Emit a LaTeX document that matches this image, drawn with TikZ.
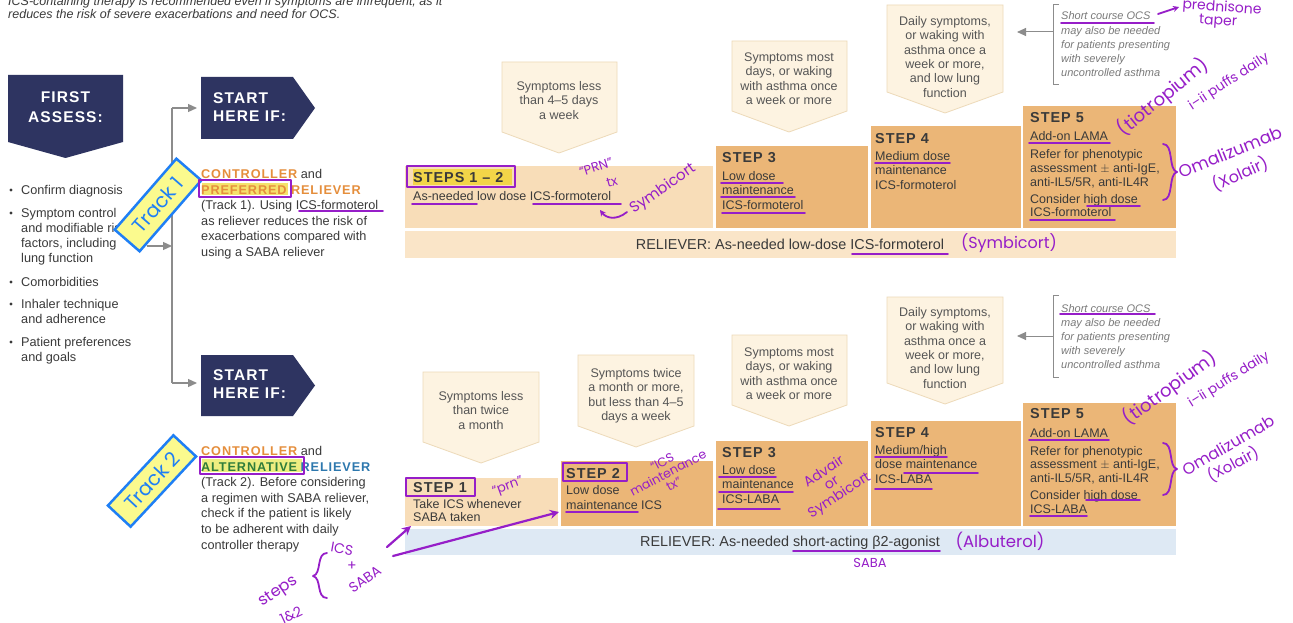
\documentclass[tikz,border=0pt]{standalone}
\usepackage{fontspec}
\setmainfont{Liberation Sans}
\newfontfamily\hvy{Liberation Sans}[LetterSpace=7]
\newfontfamily\handf{Poppins}
\usetikzlibrary{arrows.meta}
\definecolor{navy}{HTML}{2E3461}
\definecolor{txt}{HTML}{3A3A3A}
\definecolor{ctxt}{HTML}{555555}
\definecolor{orng}{HTML}{E58E3C}
\definecolor{grn}{HTML}{2F7D3A}
\definecolor{blu}{HTML}{2D78AE}
\definecolor{darkS}{HTML}{EBB677}
\definecolor{lightS}{HTML}{F8DDB8}
\definecolor{relT}{HTML}{FAE5C8}
\definecolor{relB}{HTML}{DEE9F4}
\definecolor{callF}{HTML}{FDF3E1}
\definecolor{callD}{HTML}{EDDAB9}
\definecolor{purp}{RGB}{150,30,200}
\definecolor{hlY}{HTML}{F2D548}
\definecolor{hlP}{HTML}{F5E26C}
\definecolor{hlA}{HTML}{EEEE80}
\definecolor{trkY}{HTML}{FBFA8E}
\definecolor{trkB}{HTML}{1F7FF5}
\definecolor{gry}{HTML}{8C8C8C}
\definecolor{ocs}{HTML}{7A7A7A}
\newcommand\callbox[5]{%
  \filldraw[callout] (#1,#3) -- (#2,#3) -- (#2,#5-21) -- (#4,#5) -- (#1,#5-21) -- cycle;}
\tikzset{
  intro/.style={font=\itshape\fontsize{12.5}{14}\selectfont, text=txt, anchor=base west, inner sep=0pt},
  hdr/.style={font=\hvy\bfseries\fontsize{15.5}{15.5}\selectfont, text=white, inner sep=0pt},
  bul/.style={font=\fontsize{12.7}{15}\selectfont, text=txt, anchor=base west, inner sep=0pt, align=left},
  body/.style={font=\fontsize{12.7}{15.6}\selectfont, text=txt, anchor=base west, inner sep=0pt, align=left},
  steptxt/.style={font=\fontsize{12.5}{14.5}\selectfont, text=txt, anchor=base west, inner sep=0pt, align=left},
  calltxt/.style={font=\fontsize{12.5}{14.5}\selectfont, text=ctxt, anchor=base, inner sep=0pt, align=center},
  steplbl/.style={font=\hvy\bfseries\fontsize{14.4}{14.4}\selectfont, text=txt, anchor=base west, inner sep=0pt},
  reltxt/.style={font=\fontsize{14.4}{14.4}\selectfont, text=txt, anchor=base, inner sep=0pt},
  ocstxt/.style={font=\itshape\fontsize{11}{14.2}\selectfont, text=ocs, anchor=base west, inner sep=0pt, align=left},
  callout/.style={fill=callF, draw=callD, line width=0.8pt},
  conn/.style={draw=gry, line width=1.3pt},
  arrowed/.style={-{Triangle[length=9pt,width=8pt]}},
  hand/.style={draw=purp, line width=1.8pt, line cap=round, line join=round},
  handtxt/.style={text=purp, font=\handf\fontsize{#1}{#1}\selectfont, inner sep=0pt, align=center},
  handtxt/.default=13,
  trk/.style={draw=trkB, fill=trkY, line width=2.5pt, inner sep=0pt, text=trkB, font=\handf\fontsize{20}{20}\selectfont},
  dot/.style={circle, fill=txt, inner sep=0pt, minimum size=3.2pt}
}
\begin{document}
\begin{tikzpicture}[x=1pt,y=-1pt]
\useasboundingbox (0,0) rectangle (1293,623);
\fill[white] (0,0) rectangle (1293,623);
\begin{scope}
\clip (0,0) rectangle (1293,623);
% intro text
\node[intro] (intro1) at (8,6) {ICS-containing therapy is recommended even if symptoms are infrequent, as it};
\node[intro] (intro2) at (8,19) {reduces the risk of severe exacerbations and need for OCS.};
% first assess
\fill[navy] (8,75) -- (123,75) -- (123,142) -- (65.5,158) -- (8,142) -- cycle;
\node[hdr, anchor=base] (fa1) at (65.5,102.5) {FIRST};
\node[hdr, anchor=base] (fa2) at (65.5,122.5) {ASSESS:};
% start here boxes
\fill[navy] (201,77) -- (293,77) -- (315,108) -- (293,139) -- (201,139) -- cycle;
\node[hdr, anchor=base west] (sh1a) at (213,103.5) {START};
\node[hdr, anchor=base west] (sh1b) at (213,121.5) {HERE IF:};
\fill[navy] (201,355) -- (293,355) -- (315,385.5) -- (293,416) -- (201,416) -- cycle;
\node[hdr, anchor=base west] (sh2a) at (213,380.5) {START};
\node[hdr, anchor=base west] (sh2b) at (213,398.5) {HERE IF:};
% connectors
\coordinate (vtop) at (172,108);
\coordinate (vbot) at (172,383);
\coordinate (vmid) at (172,246);
\coordinate (blist) at (147,246);
\coordinate (s1w) at (197,108);
\coordinate (s2w) at (197,383);
\draw[conn] (vtop) -- (vbot);
\draw[conn, arrowed] (vtop) -- (s1w);
\draw[conn, arrowed] (vbot) -- (s2w);
\draw[conn, arrowed] (blist) -- (vmid);
% bullets (base anchor = last line)
\node[dot] (d1) at (11,190) {};
\node[bul] (b1) at (21,194.5) {Confirm diagnosis};
\node[dot] (d2) at (11,213) {};
\node[bul] (b2) at (21,262.5) {Symptom control\\and modifiable risk\\factors, including\\lung function};
\node[dot] (d3) at (11,282) {};
\node[bul] (b3) at (21,286.5) {Comorbidities};
\node[dot] (d4) at (11,304) {};
\node[bul] (b4) at (21,323.5) {Inhaler technique\\and adherence};
\node[dot] (d5) at (11,342) {};
\node[bul] (b5) at (21,361.5) {Patient preferences\\and goals};
% track texts
\fill[hlP] (202,183) rectangle (288,195);
\node[body] (tr1) at (201,256.5) {{\hvy\bfseries\color{orng}CONTROLLER} and\\{\hvy\bfseries\color{orng}PREFERRED RELIEVER}\\(Track 1). Using ICS-formoterol\\as reliever reduces the risk of\\exacerbations compared with\\using a SABA reliever};
\fill[hlA] (202,459) rectangle (302,472);
\node[body] (tr2) at (201,549.1) {{\hvy\bfseries\color{orng}CONTROLLER} and\\{\hvy\bfseries\color{grn}ALTERNATIVE} {\hvy\bfseries\color{blu}RELIEVER}\\(Track 2). Before considering\\a regimen with SABA reliever,\\check if the patient is likely\\to be adherent with daily\\controller therapy};
% ---------------- TRACK 1 steps
\callbox{502}{617}{62}{559}{153}
\node[calltxt] (c11) at (559,119.3) {Symptoms less\\than 4–5 days\\a week};
\callbox{732}{847}{41}{789}{132}
\node[calltxt] (c13) at (789,104.8) {Symptoms most\\days, or waking\\with asthma once\\a week or more};
\callbox{887}{1003}{5}{945}{113}
\node[calltxt, font=\fontsize{12.5}{14.4}\selectfont] (c14) at (945,97.3) {Daily symptoms,\\or waking with\\asthma once a\\week or more,\\and low lung\\function};
\fill[lightS] (405,166) rectangle (713,228);
\fill[darkS] (716,146) rectangle (868,228);
\fill[darkS] (871,126) rectangle (1021,228);
\fill[darkS] (1023,106) rectangle (1176,228);
\fill[relT] (405,231) rectangle (1176,258);
\fill[hlY] (413,169) rectangle (512,184.5);
\node[steplbl] (s12) at (413,182.2) {STEPS 1 – 2};
\node[steptxt] (s12t) at (413,200.3) {As-needed low dose ICS-formoterol};
\node[steplbl] (s13) at (722,162.2) {STEP 3};
\node[steptxt] (s13t) at (722,209.3) {Low dose\\maintenance\\ICS-formoterol};
\node[steplbl] (s14) at (875,143.2) {STEP 4};
\node[steptxt] (s14t) at (875,189.3) {Medium dose\\maintenance\\ICS-formoterol};
\node[steplbl] (s15) at (1030,122.2) {STEP 5};
\node[steptxt] (s15a) at (1030,140.3) {Add-on LAMA};
\node[steptxt, font=\fontsize{12.5}{14}\selectfont] (s15b) at (1030,186.3) {Refer for phenotypic\\assessment $\pm$ anti-IgE,\\anti-IL5/5R, anti-IL4R};
\node[steptxt, font=\fontsize{12.5}{13.5}\selectfont] (s15c) at (1030,216.8) {Consider high dose\\ICS-formoterol};
\node[reltxt] (rel1) at (790,249.2) {RELIEVER: As-needed low-dose ICS-formoterol};
% OCS top
\coordinate (ocs1a) at (1059,5); \coordinate (ocs1b) at (1053,5);
\coordinate (ocs1c) at (1053,85); \coordinate (ocs1d) at (1059,85);
\coordinate (ocs1m) at (1053,32); \coordinate (ocs1e) at (1017,32);
\draw[conn, line width=1pt] (ocs1a) -- (ocs1b) -- (ocs1c) -- (ocs1d);
\draw[conn, line width=1pt, arrowed] (ocs1m) -- (ocs1e);
\node[ocstxt] (ocs1) at (1061,76.8) {Short course OCS\\may also be needed\\for patients presenting\\with severely\\uncontrolled asthma};
% ---------------- TRACK 2 steps
\callbox{423}{539}{372}{481}{463}
\node[calltxt] (c21) at (481,429.3) {Symptoms less\\than twice\\a month};
\callbox{578}{694}{355}{636}{447}
\node[calltxt] (c22) at (636,420.8) {Symptoms twice\\a month or more,\\but less than 4–5\\days a week};
\callbox{732}{847}{335}{789}{426}
\node[calltxt] (c23) at (789,399.8) {Symptoms most\\days, or waking\\with asthma once\\a week or more};
\callbox{887}{1003}{297}{945}{404}
\node[calltxt, font=\fontsize{12.5}{14.4}\selectfont] (c24) at (945,388.3) {Daily symptoms,\\or waking with\\asthma once a\\week or more,\\and low lung\\function};
\fill[lightS] (405,478) rectangle (558,525.5);
\fill[darkS] (561,461) rectangle (713,525.5);
\fill[darkS] (716,441) rectangle (868,525.5);
\fill[darkS] (871,421) rectangle (1021,525.5);
\fill[darkS] (1023,403) rectangle (1176,525.5);
\fill[relB] (405,528.5) rectangle (1176,555);
\node[steplbl] (s21) at (413,492.2) {STEP 1};
\node[steptxt, font=\fontsize{12.5}{13.2}\selectfont] (s21t) at (413,521.5) {Take ICS whenever\\SABA taken};
\node[steplbl] (s22) at (566,478.2) {STEP 2};
\node[steptxt, font=\fontsize{12.5}{15}\selectfont] (s22t) at (566,509.3) {Low dose\\maintenance ICS};
\node[steplbl] (s23) at (722,457.2) {STEP 3};
\node[steptxt] (s23t) at (722,503.3) {Low dose\\maintenance\\ICS-LABA};
\node[steplbl] (s24) at (875,437.2) {STEP 4};
\node[steptxt] (s24t) at (875,483.3) {Medium/high\\dose maintenance\\ICS-LABA};
\node[steplbl] (s25) at (1030,418.2) {STEP 5};
\node[steptxt] (s25a) at (1030,437.3) {Add-on LAMA};
\node[steptxt, font=\fontsize{12.5}{13.6}\selectfont] (s25b) at (1030,482.5) {Refer for phenotypic\\assessment $\pm$ anti-IgE,\\anti-IL5/5R, anti-IL4R};
\node[steptxt, font=\fontsize{12.5}{14}\selectfont] (s25c) at (1030,513.3) {Consider high dose\\ICS-LABA};
\node[reltxt] (rel2) at (790,546.2) {RELIEVER: As-needed short-acting β2-agonist};
% OCS bottom
\coordinate (ocs2a) at (1059,295); \coordinate (ocs2b) at (1053,295);
\coordinate (ocs2c) at (1053,377); \coordinate (ocs2d) at (1059,377);
\coordinate (ocs2m) at (1053,336); \coordinate (ocs2e) at (1017,336);
\draw[conn, line width=1pt] (ocs2a) -- (ocs2b) -- (ocs2c) -- (ocs2d);
\draw[conn, line width=1pt, arrowed] (ocs2m) -- (ocs2e);
\node[ocstxt] (ocs2) at (1061,368.8) {Short course OCS\\may also be needed\\for patients presenting\\with severely\\uncontrolled asthma};
% ---------------- handwritten annotations
% track labels
\node[trk, rotate=49, minimum width=94pt, minimum height=33pt] (track1) at (158,205) {Track 1};
\node[trk, rotate=47, minimum width=96pt, minimum height=31pt] (track2) at (152,481) {Track 2};
% boxes
\draw[hand] (199,180) rectangle (291,197);
\draw[hand] (200,457) rectangle (304,474);
\draw[hand] (407,166) rectangle (515,187);
\draw[hand] (406,478) rectangle (475,496);
\draw[hand] (563,463) rectangle (627,481);
% underlines track 1
\draw[hand] (299,211) -- (383,211);
\draw[hand] (412,204) -- (477,204);
\draw[hand] (533,204) -- (621,204);
\draw[hand] (721,183) -- (783,183);
\draw[hand] (721,197) -- (795,197);
\draw[hand] (722,213) -- (805,213);
\draw[hand] (875,163) -- (950,163);
\draw[hand] (1029,143) -- (1110,143);
\draw[hand] (1087,206) -- (1140,206);
\draw[hand] (1030,220) -- (1115,220);
\draw[hand] (852,254) -- (948,254);
\draw[hand] (1061,23) -- (1154,23);
% underlines track 2
\draw[hand] (566,512) -- (638,512);
\draw[hand] (719,477) -- (776,477);
\draw[hand] (719,492) -- (793,492);
\draw[hand] (718,509) -- (780,509);
\draw[hand] (875,457) -- (947,457);
\draw[hand] (904,473) -- (978,473);
\draw[hand] (875,489) -- (932,489);
\draw[hand] (1029,440) -- (1109,440);
\draw[hand] (1086,500) -- (1140,500);
\draw[hand] (1030,516) -- (1087,516);
\draw[hand] (793,551) -- (940,551);
\draw[hand] (1060,314) -- (1155,314);
% braces
\draw[hand] (1163,144) .. controls (1174,144) and (1168,170) .. (1177,172) .. controls (1168,174) and (1174,200) .. (1163,200);
\draw[hand] (1163,443) .. controls (1174,443) and (1168,467) .. (1177,469) .. controls (1168,471) and (1174,495) .. (1163,495);
\draw[hand] (327,553) .. controls (316,553) and (322,574) .. (313,576) .. controls (322,578) and (316,598) .. (327,598);
% arrows
\coordinate (sy1) at (627,212); \coordinate (sy2) at (600,210);
\draw[hand, -{Stealth[length=6pt,width=6pt]}] (sy1) .. controls (616,221) and (606,218) .. (sy2);
\coordinate (pr1) at (1158,14); \coordinate (pr2) at (1179,7);
\draw[hand, -{Stealth[length=6pt,width=6pt]}] (pr1) -- (pr2);
\coordinate (ar1a) at (387,547); \coordinate (ar1b) at (411,526);
\draw[hand, line width=2.2pt, -{Stealth[length=9pt,width=9pt]}] (ar1a) -- (ar1b);
\coordinate (ar2a) at (393,556); \coordinate (ar2b) at (559,512);
\draw[hand, line width=2.2pt, -{Stealth[length=9pt,width=9pt]}] (ar2a) -- (ar2b);
% hand texts track 1
\node[handtxt=13, rotate=18] (h1) at (596,167) {“PRN”};
\node[handtxt=13, rotate=15] (h2) at (612,182) {tx};
\node[handtxt=15, rotate=35] (h3) at (663,189) {Symbicort};
\node[handtxt=16] (h4) at (1009,243) {(Symbicort)};
\node[handtxt=17, rotate=22] (h5) at (1230,152) {Omalizumab};
\node[handtxt=16, rotate=24] (h6) at (1240,174) {(Xolair)};
\node[handtxt=18, rotate=39] (h7) at (1163,97) {(tiotropium)};
\node[handtxt=13.5, rotate=33] (h8) at (1229,82) {i–ii puffs daily};
\node[handtxt=14, rotate=-4] (h9) at (1222,8) {prednisone};
\node[handtxt=14, rotate=-4] (h10) at (1218,22) {taper};
% hand texts track 2
\node[handtxt=13, rotate=20] (h11) at (508,487) {“prn”};
\node[handtxt=12.5, rotate=28] (h12) at (668,473) {“ICS\\maintenance\\tx”};
\node[handtxt=14, rotate=33] (h13) at (832,484) {Advair\\or\\Symbicort};
\node[handtxt=16.5] (h14) at (1000,541) {(Albuterol)};
\node[handtxt=13] (h15) at (870,563) {SABA};
\node[handtxt=16, rotate=30] (h16) at (1228,445) {Omalizumab};
\node[handtxt=15, rotate=28] (h17) at (1233,464) {(Xolair)};
\node[handtxt=18, rotate=36] (h18) at (1170,388) {(tiotropium)};
\node[handtxt=13.5, rotate=32] (h19) at (1229,380) {i–ii puffs daily};
\node[handtxt=16, rotate=34] (h20) at (279,592) {steps};
\node[handtxt=14, rotate=25] (h21) at (291,615) {1\&2};
\node[handtxt=14, rotate=-10] (h22) at (342,549) {ICS};
\node[handtxt=14] (h23) at (352,566) {+};
\node[handtxt=14, rotate=35] (h24) at (365,579) {SABA};
\end{scope}
\end{tikzpicture}
\end{document}
